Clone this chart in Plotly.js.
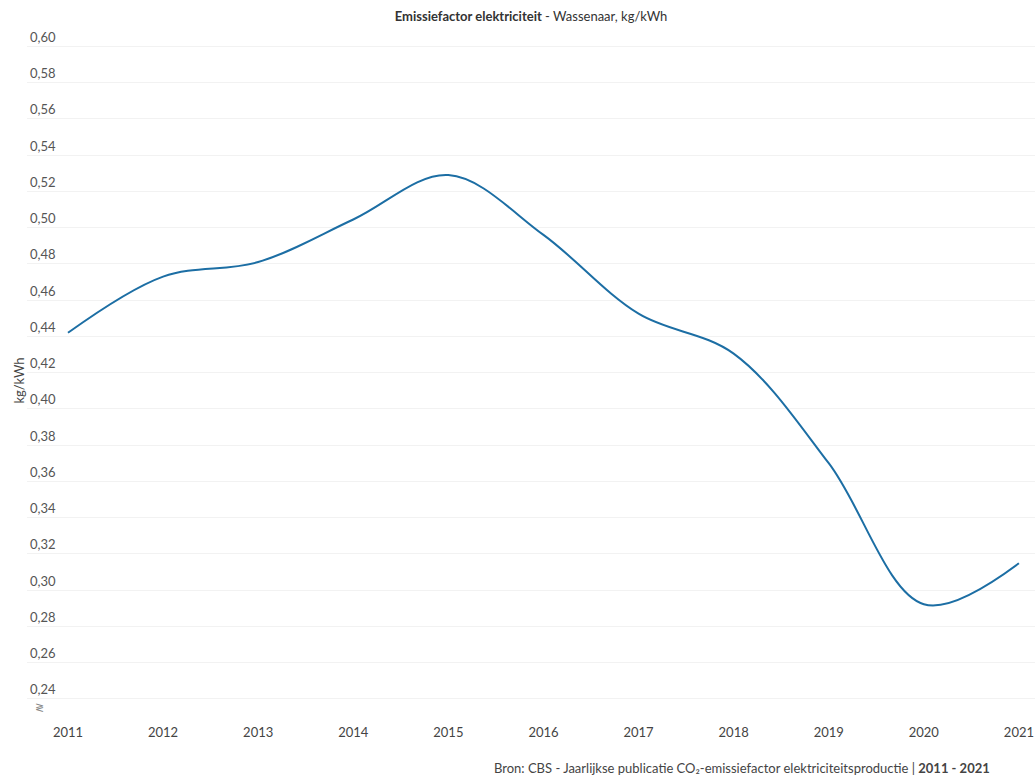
<!DOCTYPE html>
<html>
<head>
<meta charset="utf-8">
<script src="https://cdn.plot.ly/plotly-3.0.1.min.js"></script>
<style>html,body{margin:0;padding:0;background:#fff;}#chart{width:1035px;height:776px;}</style>
</head>
<body>
<div id="chart"></div>
<script>
const years = [2011, 2012, 2013, 2014, 2015, 2016, 2017, 2018, 2019, 2020, 2021];
const emissionFactor = [0.442, 0.473, 0.481, 0.5045, 0.529, 0.496, 0.4525, 0.4305, 0.370, 0.2922, 0.3148];
const yTicks = [0.24, 0.26, 0.28, 0.30, 0.32, 0.34, 0.36, 0.38, 0.40, 0.42, 0.44, 0.46, 0.48, 0.50, 0.52, 0.54, 0.56, 0.58, 0.60];

const FONT = "Lato, 'Open Sans', sans-serif";

const trace = {
  x: years,
  y: emissionFactor,
  type: 'scatter',
  mode: 'lines',
  line: {shape: 'spline', smoothing: 1, color: '#1c6ea4', width: 2},
  hoverinfo: 'x+y'
};

const layout = {
  width: 1035,
  height: 776,
  margin: {l: 27, r: 0, t: 45, b: 60},
  paper_bgcolor: '#ffffff',
  plot_bgcolor: '#ffffff',
  separators: ',.',
  showlegend: false,
  font: {family: FONT, size: 13, color: '#555'},
  title: {
    text: '<b>Emissiefactor elektriciteit</b> - Wassenaar, kg/kWh',
    font: {family: FONT, size: 13, color: '#333'},
    x: 0.5, xanchor: 'center', xref: 'paper', y: 0.979, yanchor: 'middle', yref: 'container'
  },
  xaxis: {
    range: [2010.569, 2021.169],
    tickvals: years,
    ticktext: years.map(String),
    showgrid: false,
    zeroline: false,
    showline: false,
    ticks: '',
    ticklabelstandoff: 7,
    tickfont: {family: FONT, size: 13, color: '#444'},
    fixedrange: true
  },
  yaxis: {
    range: [0.2305, 0.6008],
    tickvals: yTicks,
    tickformat: '.2f',
    ticklabelposition: 'inside top',
    ticklabeloverflow: 'allow',
    showgrid: true,
    gridcolor: '#f2f2f2',
    gridwidth: 1,
    zeroline: false,
    showline: false,
    ticks: '',
    tickfont: {family: FONT, size: 13, color: '#555'},
    title: {text: 'kg/kWh', font: {family: FONT, size: 13, color: '#444'}, standoff: 2},
    automargin: false,
    fixedrange: true
  },
  annotations: [
    {
      xref: 'paper', yref: 'paper', x: 0.957, y: -0.078,
      xanchor: 'right', yanchor: 'middle', showarrow: false,
      text: 'Bron: CBS - Jaarlijkse publicatie CO₂-emissiefactor elektriciteitsproductie | <b>2011 - 2021</b>',
      font: {family: FONT, size: 13, color: '#444'}
    },
    {
      xref: 'paper', yref: 'paper', x: 0.0125, y: 0.012,
      xanchor: 'center', yanchor: 'middle', showarrow: false,
      text: '≷',
      font: {family: 'DejaVu Sans', size: 11, color: '#888'}
    }
  ]
};

Plotly.newPlot('chart', [trace], layout, {displayModeBar: false, staticPlot: true});
</script>
</body>
</html>
